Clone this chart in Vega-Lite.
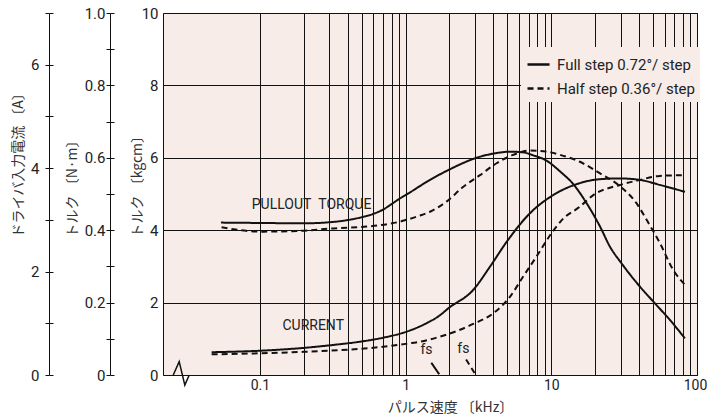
{
  "$schema": "https://vega.github.io/schema/vega-lite/v6.json",
  "width": 534,
  "height": 362,
  "autosize": "none",
  "padding": {"left": 163, "top": 13, "right": 11, "bottom": 42},
  "background": "white",
  "config": {
    "view": {"fill": "#f7ece8", "stroke": "#111111", "strokeWidth": 1},
    "font": "Roboto, Liberation Sans, sans-serif",
    "axis": {
      "labelFont": "Roboto, Liberation Sans, sans-serif",
      "labelFontSize": 15,
      "labelColor": "#222222",
      "titleFont": "Noto Sans CJK JP",
      "titleFontSize": 14,
      "titleFontWeight": "normal",
      "titleColor": "#333333"
    }
  },
  "datasets": {
    "curves": [
      {"f": 0.054, "t": 4.21, "step": "Full step 0.72°/ step", "curve": "torque"},
      {"f": 0.1, "t": 4.2, "step": "Full step 0.72°/ step", "curve": "torque"},
      {"f": 0.2, "t": 4.19, "step": "Full step 0.72°/ step", "curve": "torque"},
      {"f": 0.3, "t": 4.22, "step": "Full step 0.72°/ step", "curve": "torque"},
      {"f": 0.4, "t": 4.28, "step": "Full step 0.72°/ step", "curve": "torque"},
      {"f": 0.5, "t": 4.36, "step": "Full step 0.72°/ step", "curve": "torque"},
      {"f": 0.6, "t": 4.45, "step": "Full step 0.72°/ step", "curve": "torque"},
      {"f": 0.7, "t": 4.57, "step": "Full step 0.72°/ step", "curve": "torque"},
      {"f": 0.8, "t": 4.72, "step": "Full step 0.72°/ step", "curve": "torque"},
      {"f": 0.9, "t": 4.86, "step": "Full step 0.72°/ step", "curve": "torque"},
      {"f": 1.0, "t": 4.97, "step": "Full step 0.72°/ step", "curve": "torque"},
      {"f": 1.47, "t": 5.39, "step": "Full step 0.72°/ step", "curve": "torque"},
      {"f": 1.96, "t": 5.66, "step": "Full step 0.72°/ step", "curve": "torque"},
      {"f": 3.24, "t": 6.03, "step": "Full step 0.72°/ step", "curve": "torque"},
      {"f": 4.2, "t": 6.13, "step": "Full step 0.72°/ step", "curve": "torque"},
      {"f": 5.2, "t": 6.17, "step": "Full step 0.72°/ step", "curve": "torque"},
      {"f": 6.41, "t": 6.15, "step": "Full step 0.72°/ step", "curve": "torque"},
      {"f": 7.5, "t": 6.07, "step": "Full step 0.72°/ step", "curve": "torque"},
      {"f": 9.29, "t": 5.92, "step": "Full step 0.72°/ step", "curve": "torque"},
      {"f": 11.5, "t": 5.62, "step": "Full step 0.72°/ step", "curve": "torque"},
      {"f": 14.1, "t": 5.28, "step": "Full step 0.72°/ step", "curve": "torque"},
      {"f": 17.5, "t": 4.74, "step": "Full step 0.72°/ step", "curve": "torque"},
      {"f": 21.6, "t": 4.1, "step": "Full step 0.72°/ step", "curve": "torque"},
      {"f": 25.3, "t": 3.54, "step": "Full step 0.72°/ step", "curve": "torque"},
      {"f": 30.4, "t": 3.08, "step": "Full step 0.72°/ step", "curve": "torque"},
      {"f": 40.6, "t": 2.44, "step": "Full step 0.72°/ step", "curve": "torque"},
      {"f": 51.4, "t": 1.98, "step": "Full step 0.72°/ step", "curve": "torque"},
      {"f": 65.2, "t": 1.52, "step": "Full step 0.72°/ step", "curve": "torque"},
      {"f": 82.7, "t": 1.01, "step": "Full step 0.72°/ step", "curve": "torque"},

      {"f": 0.0545, "t": 4.08, "step": "Half step 0.36°/ step", "curve": "torque"},
      {"f": 0.1, "t": 3.96, "step": "Half step 0.36°/ step", "curve": "torque"},
      {"f": 0.188, "t": 3.98, "step": "Half step 0.36°/ step", "curve": "torque"},
      {"f": 0.318, "t": 4.05, "step": "Half step 0.36°/ step", "curve": "torque"},
      {"f": 0.54, "t": 4.1, "step": "Half step 0.36°/ step", "curve": "torque"},
      {"f": 0.67, "t": 4.14, "step": "Half step 0.36°/ step", "curve": "torque"},
      {"f": 0.9, "t": 4.23, "step": "Half step 0.36°/ step", "curve": "torque"},
      {"f": 1.0, "t": 4.28, "step": "Half step 0.36°/ step", "curve": "torque"},
      {"f": 1.22, "t": 4.39, "step": "Half step 0.36°/ step", "curve": "torque"},
      {"f": 1.47, "t": 4.51, "step": "Half step 0.36°/ step", "curve": "torque"},
      {"f": 1.91, "t": 4.79, "step": "Half step 0.36°/ step", "curve": "torque"},
      {"f": 2.49, "t": 5.2, "step": "Half step 0.36°/ step", "curve": "torque"},
      {"f": 3.24, "t": 5.52, "step": "Half step 0.36°/ step", "curve": "torque"},
      {"f": 4.21, "t": 5.85, "step": "Half step 0.36°/ step", "curve": "torque"},
      {"f": 5.47, "t": 6.08, "step": "Half step 0.36°/ step", "curve": "torque"},
      {"f": 7.14, "t": 6.2, "step": "Half step 0.36°/ step", "curve": "torque"},
      {"f": 9.29, "t": 6.17, "step": "Half step 0.36°/ step", "curve": "torque"},
      {"f": 11.5, "t": 6.08, "step": "Half step 0.36°/ step", "curve": "torque"},
      {"f": 15.7, "t": 5.89, "step": "Half step 0.36°/ step", "curve": "torque"},
      {"f": 21.6, "t": 5.57, "step": "Half step 0.36°/ step", "curve": "torque"},
      {"f": 28.9, "t": 5.25, "step": "Half step 0.36°/ step", "curve": "torque"},
      {"f": 38.5, "t": 4.74, "step": "Half step 0.36°/ step", "curve": "torque"},
      {"f": 45.2, "t": 4.28, "step": "Half step 0.36°/ step", "curve": "torque"},
      {"f": 55.7, "t": 3.64, "step": "Half step 0.36°/ step", "curve": "torque"},
      {"f": 68.7, "t": 2.9, "step": "Half step 0.36°/ step", "curve": "torque"},
      {"f": 82.7, "t": 2.49, "step": "Half step 0.36°/ step", "curve": "torque"},

      {"f": 0.0466, "t": 0.63, "step": "Full step 0.72°/ step", "curve": "current"},
      {"f": 0.1, "t": 0.67, "step": "Full step 0.72°/ step", "curve": "current"},
      {"f": 0.188, "t": 0.74, "step": "Full step 0.72°/ step", "curve": "current"},
      {"f": 0.318, "t": 0.83, "step": "Full step 0.72°/ step", "curve": "current"},
      {"f": 0.486, "t": 0.92, "step": "Full step 0.72°/ step", "curve": "current"},
      {"f": 0.7, "t": 1.03, "step": "Full step 0.72°/ step", "curve": "current"},
      {"f": 1.02, "t": 1.2, "step": "Full step 0.72°/ step", "curve": "current"},
      {"f": 1.39, "t": 1.43, "step": "Full step 0.72°/ step", "curve": "current"},
      {"f": 1.72, "t": 1.65, "step": "Full step 0.72°/ step", "curve": "current"},
      {"f": 1.96, "t": 1.84, "step": "Full step 0.72°/ step", "curve": "current"},
      {"f": 2.91, "t": 2.35, "step": "Full step 0.72°/ step", "curve": "current"},
      {"f": 3.79, "t": 2.99, "step": "Full step 0.72°/ step", "curve": "current"},
      {"f": 4.94, "t": 3.68, "step": "Full step 0.72°/ step", "curve": "current"},
      {"f": 7.14, "t": 4.47, "step": "Full step 0.72°/ step", "curve": "current"},
      {"f": 10.3, "t": 4.97, "step": "Full step 0.72°/ step", "curve": "current"},
      {"f": 15.7, "t": 5.3, "step": "Full step 0.72°/ step", "curve": "current"},
      {"f": 21.6, "t": 5.41, "step": "Full step 0.72°/ step", "curve": "current"},
      {"f": 29.6, "t": 5.43, "step": "Full step 0.72°/ step", "curve": "current"},
      {"f": 40.6, "t": 5.39, "step": "Full step 0.72°/ step", "curve": "current"},
      {"f": 55.7, "t": 5.25, "step": "Full step 0.72°/ step", "curve": "current"},
      {"f": 82.7, "t": 5.06, "step": "Full step 0.72°/ step", "curve": "current"},

      {"f": 0.0466, "t": 0.57, "step": "Half step 0.36°/ step", "curve": "current"},
      {"f": 0.1, "t": 0.6, "step": "Half step 0.36°/ step", "curve": "current"},
      {"f": 0.2, "t": 0.64, "step": "Half step 0.36°/ step", "curve": "current"},
      {"f": 0.4, "t": 0.7, "step": "Half step 0.36°/ step", "curve": "current"},
      {"f": 0.7, "t": 0.78, "step": "Half step 0.36°/ step", "curve": "current"},
      {"f": 1.0, "t": 0.86, "step": "Half step 0.36°/ step", "curve": "current"},
      {"f": 1.4, "t": 0.96, "step": "Half step 0.36°/ step", "curve": "current"},
      {"f": 1.72, "t": 1.06, "step": "Half step 0.36°/ step", "curve": "current"},
      {"f": 1.96, "t": 1.13, "step": "Half step 0.36°/ step", "curve": "current"},
      {"f": 2.91, "t": 1.41, "step": "Half step 0.36°/ step", "curve": "current"},
      {"f": 3.98, "t": 1.7, "step": "Half step 0.36°/ step", "curve": "current"},
      {"f": 5.2, "t": 2.16, "step": "Half step 0.36°/ step", "curve": "current"},
      {"f": 6.41, "t": 2.72, "step": "Half step 0.36°/ step", "curve": "current"},
      {"f": 7.9, "t": 3.27, "step": "Half step 0.36°/ step", "curve": "current"},
      {"f": 10.0, "t": 3.91, "step": "Half step 0.36°/ step", "curve": "current"},
      {"f": 11.8, "t": 4.28, "step": "Half step 0.36°/ step", "curve": "current"},
      {"f": 15.7, "t": 4.65, "step": "Half step 0.36°/ step", "curve": "current"},
      {"f": 19.4, "t": 4.97, "step": "Half step 0.36°/ step", "curve": "current"},
      {"f": 29.6, "t": 5.25, "step": "Half step 0.36°/ step", "curve": "current"},
      {"f": 40.6, "t": 5.39, "step": "Half step 0.36°/ step", "curve": "current"},
      {"f": 55.7, "t": 5.5, "step": "Half step 0.36°/ step", "curve": "current"},
      {"f": 82.7, "t": 5.52, "step": "Half step 0.36°/ step", "curve": "current"},

      {"f": 1.5, "t": 0.34, "step": "Full step 0.72°/ step", "curve": "fs"},
      {"f": 1.7, "t": 0.02, "step": "Full step 0.72°/ step", "curve": "fs"},
      {"f": 2.6, "t": 0.43, "step": "Half step 0.36°/ step", "curve": "fs"},
      {"f": 3.0, "t": 0.03, "step": "Half step 0.36°/ step", "curve": "fs"}
    ],
    "notes": [
      {"f": 0.226, "t": 4.7, "label": "PULLOUT\u00a0\u00a0TORQUE"},
      {"f": 0.232, "t": 1.35, "label": "CURRENT"},
      {"f": 1.39, "t": 0.69, "label": "fs"},
      {"f": 2.49, "t": 0.71, "label": "fs"}
    ],
    "zig": [
      {"f": 0.0254, "t": 0},
      {"f": 0.0279, "t": 0.37},
      {"f": 0.0305, "t": -0.28},
      {"f": 0.0327, "t": 0}
    ],
    "nm": [{"v": 0}, {"v": 1}],
    "amp": [{"v": 0}, {"v": 7}]
  },
  "layer": [
    {
      "layer": [
        {
          "data": {"name": "curves"},
          "mark": {"type": "line", "interpolate": "monotone", "strokeWidth": 2, "color": "#111111"},
          "encoding": {
            "x": {
              "field": "f", "type": "quantitative",
              "scale": {"type": "log", "domain": [0.0216, 100], "nice": false},
              "axis": {
                "values": [0.1, 0.2, 0.3, 0.4, 0.5, 0.6, 0.7, 0.8, 0.9, 1, 2, 3, 4, 5, 6, 7, 8, 9, 10, 20, 30, 40, 50, 60, 70, 80, 90, 100],
                "labelExpr": "abs(log(datum.value)/LN10 - round(log(datum.value)/LN10)) < 0.000001 ? format(datum.value, '~g') : ''",
                "grid": true, "gridColor": "#111111", "gridWidth": 1, "gridOpacity": 1,
                "ticks": false, "domain": false, "labelPadding": 3, "labelOverlap": false, "labelFlush": false,
                "labelFontSize": 14,
                "labelOffset": {"condition": {"test": "datum.value > 99", "value": -2}, "value": 0},
                "title": "パルス速度 〔kHz〕", "titleX": 287, "titleY": 32, "titleBaseline": "middle", "titleAlign": "center"
              }
            },
            "y": {
              "field": "t", "type": "quantitative",
              "scale": {"domain": [0, 10], "nice": false},
              "axis": {
                "values": [0, 1, 2, 3, 4, 5, 6, 7, 8, 9, 10],
                "labelExpr": "datum.value % 2 == 0 ? datum.label : ''",
                "grid": true, "gridColor": "#111111", "gridWidth": 1, "gridOpacity": 1,
                "ticks": false, "domain": false, "labelPadding": 5,
                "title": "トルク 〔kgcm〕", "titleAngle": 270, "titleAlign": "left", "titleBaseline": "middle",
                "titleX": -26, "titleY": 224
              }
            },
            "strokeDash": {
              "field": "step", "type": "nominal",
              "scale": {"domain": ["Full step 0.72°/ step", "Half step 0.36°/ step"], "range": [[1, 0], [6, 4]]},
              "legend": {
                "title": null, "orient": "none", "legendX": 358, "legendY": 34,
                "fillColor": "#f7ece8", "padding": 5, "rowPadding": 3,
                "symbolType": "stroke", "symbolSize": 484, "symbolStrokeWidth": 2.5, "symbolStrokeColor": "#111111",
                "labelFont": "Roboto, Liberation Sans, sans-serif",
                "labelFontSize": 15, "labelColor": "#222222", "labelOffset": 6, "labelLimit": 300
              }
            },
            "detail": {"field": "curve", "type": "nominal"}
          }
        },
        {
          "data": {"name": "notes"},
          "mark": {"type": "text", "fontSize": 14, "color": "#222222", "font": "Roboto, Liberation Sans, sans-serif"},
          "encoding": {
            "x": {"field": "f", "type": "quantitative"},
            "y": {"field": "t", "type": "quantitative"},
            "text": {"field": "label"}
          }
        },
        {
          "data": {"name": "zig"},
          "mark": {"type": "line", "clip": false, "strokeWidth": 1.5, "color": "#111111"},
          "encoding": {
            "x": {"field": "f", "type": "quantitative"},
            "y": {"field": "t", "type": "quantitative"}
          }
        }
      ]
    },
    {
      "data": {"name": "nm"},
      "mark": {"type": "rule", "opacity": 0},
      "encoding": {
        "y": {
          "field": "v", "type": "quantitative",
          "scale": {"domain": [0, 1], "nice": false},
          "axis": {
            "orient": "left", "offset": 53,
            "values": [0, 0.1, 0.2, 0.3, 0.4, 0.5, 0.6, 0.7, 0.8, 0.9, 1],
            "labelExpr": "datum.value < 0.01 ? '0' : (round(datum.value*10) % 2 == 0 ? format(datum.value, '.1f') : '')",
            "grid": false, "tickSize": 4, "tickColor": "#111111", "domainColor": "#111111", "labelPadding": 1,
            "title": "トルク 〔N·m〕", "titleAngle": 270, "titleAlign": "left", "titleBaseline": "middle",
            "titleX": -38, "titleY": 224
          }
        }
      }
    },
    {
      "data": {"name": "nm"},
      "mark": {"type": "rule", "opacity": 0},
      "encoding": {
        "y": {
          "field": "v", "type": "quantitative",
          "scale": {"domain": [0, 1], "nice": false},
          "axis": {
            "orient": "left", "offset": 49,
            "values": [0, 0.1, 0.2, 0.3, 0.4, 0.5, 0.6, 0.7, 0.8, 0.9, 1],
            "labels": false, "domain": false, "grid": false, "tickSize": 4, "tickColor": "#111111", "title": null
          }
        }
      }
    },
    {
      "data": {"name": "amp"},
      "mark": {"type": "rule", "opacity": 0},
      "encoding": {
        "y": {
          "field": "v", "type": "quantitative",
          "scale": {"domain": [0, 7], "nice": false},
          "axis": {
            "orient": "left", "offset": 114,
            "values": [0, 1, 2, 3, 4, 5, 6, 7],
            "labelExpr": "datum.value % 2 == 0 ? datum.label : ''",
            "grid": false, "tickSize": 4, "tickColor": "#111111", "domainColor": "#111111", "labelPadding": 6,
            "title": "ドライバ入力電流 〔A〕", "titleAngle": 270, "titleAlign": "left", "titleBaseline": "middle",
            "titleX": -31, "titleY": 224
          }
        }
      }
    },
    {
      "data": {"name": "amp"},
      "mark": {"type": "rule", "opacity": 0},
      "encoding": {
        "y": {
          "field": "v", "type": "quantitative",
          "scale": {"domain": [0, 7], "nice": false},
          "axis": {
            "orient": "left", "offset": 110,
            "values": [0, 1, 2, 3, 4, 5, 6, 7],
            "labels": false, "domain": false, "grid": false, "tickSize": 4, "tickColor": "#111111", "title": null
          }
        }
      }
    }
  ],
  "resolve": {"scale": {"y": "independent"}, "axis": {"y": "independent"}}
}
